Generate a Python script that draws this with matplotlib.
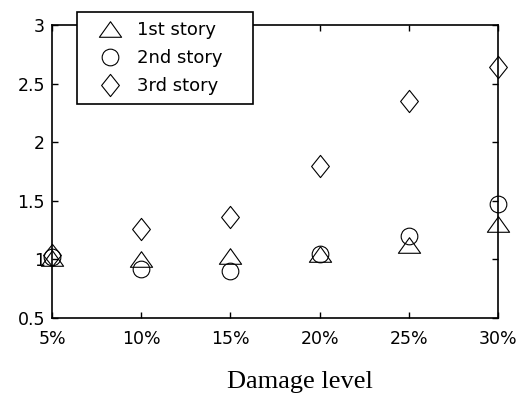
import numpy as np
import matplotlib
matplotlib.use('Agg')
import matplotlib.pyplot as plt
from matplotlib.path import Path

# damage levels and response ratio for each story
levels = [5, 10, 15, 20, 25, 30]
level_labels = ['5%', '10%', '15%', '20%', '25%', '30%']
story1 = [1.01, 1.00, 1.03, 1.05, 1.12, 1.30]
story2 = [1.02, 0.92, 0.90, 1.05, 1.20, 1.47]
story3 = [1.04, 1.26, 1.36, 1.80, 2.35, 2.64]
yticks = [0.5, 1, 1.5, 2, 2.5, 3]
ytick_labels = ['0.5', '1', '1.5', '2', '2.5', '3']

# matlab-style markers: wide triangle, tall diamond
tri = Path([(0, 0.7), (-1, -0.7), (1, -0.7), (0, 0.7)],
           [Path.MOVETO, Path.LINETO, Path.LINETO, Path.CLOSEPOLY])
dia = Path([(0, 1), (0.8, 0), (0, -1), (-0.8, 0), (0, 1)],
           [Path.MOVETO, Path.LINETO, Path.LINETO, Path.LINETO, Path.CLOSEPOLY])

fig = plt.figure(figsize=(5.16, 3.94), dpi=100)
ax = fig.add_axes([52/516, 76/394, 446/516, 293/394])

mk = dict(linestyle='none', mfc='none', mec='black', mew=0.8, clip_on=False)
ax.plot(levels, story1, marker=tri, ms=16, label='1st story', **mk)
ax.plot(levels, story2, marker='o', ms=12, label='2nd story', **mk)
ax.plot(levels, story3, marker=dia, ms=16, label='3rd story', **mk)

ax.set_xlim(5, 30)
ax.set_ylim(0.5, 3)
ax.set_xticks(levels)
ax.set_xticklabels(level_labels)
ax.set_yticks(yticks)
ax.set_yticklabels(ytick_labels)
ax.tick_params(direction='in', length=4, width=1, top=True, right=True,
               labelsize=12.5, colors='black')
ax.tick_params(axis='x', pad=9)
ax.tick_params(axis='y', pad=5)
for s in ax.spines.values():
    s.set_linewidth(1.2)

# legend box spans a fixed region in figure pixels
leg = ax.legend(loc='upper left',
                bbox_to_anchor=(77/516, 1 - 102/394, 176/516, 90/394),
                bbox_transform=fig.transFigure, mode='expand',
                fontsize=13, frameon=True, fancybox=False,
                edgecolor='black', framealpha=1,
                borderpad=0.5, handlelength=2.6, handletextpad=0.25,
                labelspacing=0.55, borderaxespad=0)
leg.get_frame().set_linewidth(1.2)

fig.text(300/516, 6/394, 'Damage level', family='Liberation Serif',
         fontsize=19, ha='center', va='baseline')

fig.savefig('out.png', dpi=100)
